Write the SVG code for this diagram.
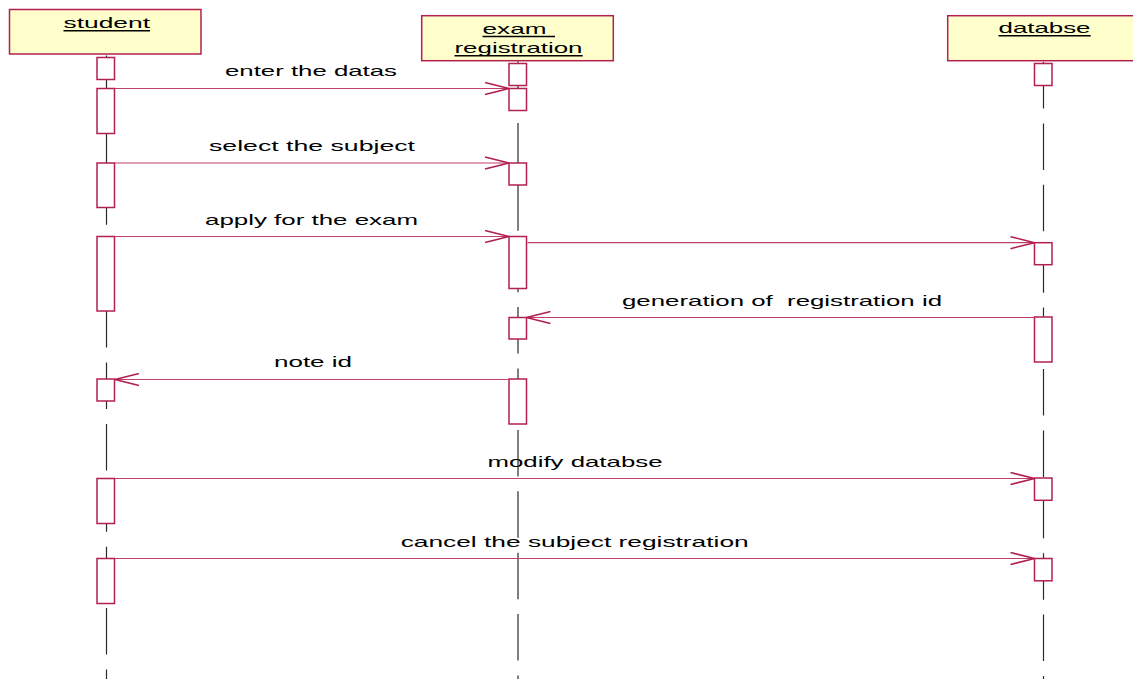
<svg xmlns="http://www.w3.org/2000/svg" width="1133" height="679" viewBox="0 0 1133 679">
<style>
.hdr{fill:#FFFFCC;stroke:#B2204F;stroke-width:1.5}
.act{fill:#FFFFFF;stroke:#B2204F;stroke-width:1.5}
.life{stroke:#2A2A2A;stroke-width:1.2;stroke-dasharray:46.5 14.9;fill:none}
.ul{stroke:#000;stroke-width:1.5}
.msg{stroke:#C0406C;stroke-width:1.2;fill:none}
text{font-family:"Liberation Sans",Arial,sans-serif;font-size:15px;fill:#000;white-space:pre}
</style>
<defs>
<marker id="open" viewBox="0 0 26 14" refX="25" refY="7" markerWidth="26" markerHeight="14" markerUnits="userSpaceOnUse" orient="auto">
<path d="M1,1 L25,7 L1,13" fill="none" stroke="#B01E50" stroke-width="1.5"/>
</marker>
</defs>
<rect width="1133" height="679" fill="#FFFFFF"/>
<g id="student">
<rect class="hdr" x="9.5" y="9.5" width="191.5" height="44.5"/>
<text x="63.5" y="28.3" textLength="86.5" lengthAdjust="spacingAndGlyphs">student</text>
<line class="ul" x1="63.5" y1="30.8" x2="150" y2="30.8"/>
<line class="life" x1="106.5" y1="55.5" x2="106.5" y2="679"/>
<rect class="act" x="97" y="57.5" width="17.5" height="22"/>
<rect class="act" x="97" y="88.5" width="17.5" height="45"/>
<rect class="act" x="97" y="163" width="17.5" height="44.5"/>
<rect class="act" x="97" y="236.5" width="17.5" height="74.5"/>
<rect class="act" x="97" y="379" width="17.5" height="22"/>
<rect class="act" x="97" y="478.5" width="17.5" height="45"/>
<rect class="act" x="97" y="558.5" width="17.5" height="45"/>
</g>
<g id="exam_registration">
<rect class="hdr" x="421.7" y="15.7" width="191.6" height="45"/>
<text x="482.5" y="34.3" textLength="64" lengthAdjust="spacingAndGlyphs">exam</text>
<line class="ul" x1="482.5" y1="36.5" x2="555" y2="36.5"/>
<text x="454.5" y="53.3" textLength="128" lengthAdjust="spacingAndGlyphs">registration</text>
<line class="ul" x1="454.5" y1="55.7" x2="582.7" y2="55.7"/>
<line class="life" x1="518" y1="61.5" x2="518" y2="679"/>
<rect class="act" x="509" y="63.5" width="17.5" height="22"/>
<rect class="act" x="509" y="88.5" width="17.5" height="22"/>
<rect class="act" x="509" y="163" width="17.5" height="22"/>
<rect class="act" x="509" y="236.5" width="17.5" height="52"/>
<rect class="act" x="509" y="317.5" width="17.5" height="21.5"/>
<rect class="act" x="509" y="379" width="17.5" height="45"/>
</g>
<g id="databse">
<rect class="hdr" x="947.7" y="15.7" width="200" height="45"/>
<text x="998.5" y="33.3" textLength="92" lengthAdjust="spacingAndGlyphs">databse</text>
<line class="ul" x1="998.5" y1="35.8" x2="1090.7" y2="35.8"/>
<line class="life" x1="1043.5" y1="62" x2="1043.5" y2="679"/>
<rect class="act" x="1034.5" y="63.5" width="17.5" height="22"/>
<rect class="act" x="1034.5" y="242.7" width="17.5" height="22"/>
<rect class="act" x="1034.5" y="317" width="17.5" height="45"/>
<rect class="act" x="1034.5" y="478" width="17.5" height="22.3"/>
<rect class="act" x="1034.5" y="558.5" width="17.5" height="22.3"/>
</g>
<g id="connectors">
<line class="msg" x1="115" y1="88.5" x2="509" y2="88.5" marker-end="url(#open)"/>
<text x="225" y="76.3" textLength="172" lengthAdjust="spacingAndGlyphs">enter the datas</text>
<line class="msg" x1="115" y1="163" x2="509" y2="163" marker-end="url(#open)"/>
<text x="209" y="151" textLength="206" lengthAdjust="spacingAndGlyphs">select the subject</text>
<line class="msg" x1="115" y1="236.5" x2="509" y2="236.5" marker-end="url(#open)"/>
<text x="205" y="225" textLength="213" lengthAdjust="spacingAndGlyphs">apply for the exam</text>
<line class="msg" x1="527.5" y1="242.7" x2="1034.5" y2="242.7" marker-end="url(#open)"/>
<line class="msg" x1="1034.5" y1="317.5" x2="526.5" y2="317.5" marker-end="url(#open)"/>
<text x="622" y="306" textLength="320" lengthAdjust="spacingAndGlyphs" xml:space="preserve">generation of  registration id</text>
<line class="msg" x1="509" y1="379.5" x2="115" y2="379.5" marker-end="url(#open)"/>
<text x="274" y="367" textLength="78" lengthAdjust="spacingAndGlyphs">note id</text>
<line class="msg" x1="115" y1="478.5" x2="1034.5" y2="478.5" marker-end="url(#open)"/>
<text x="487.5" y="467" textLength="175" lengthAdjust="spacingAndGlyphs">modify databse</text>
<line class="msg" x1="115" y1="558.5" x2="1034.5" y2="558.5" marker-end="url(#open)"/>
<text x="400.7" y="547.3" textLength="348" lengthAdjust="spacingAndGlyphs">cancel the subject registration</text>
</g>
</svg>
